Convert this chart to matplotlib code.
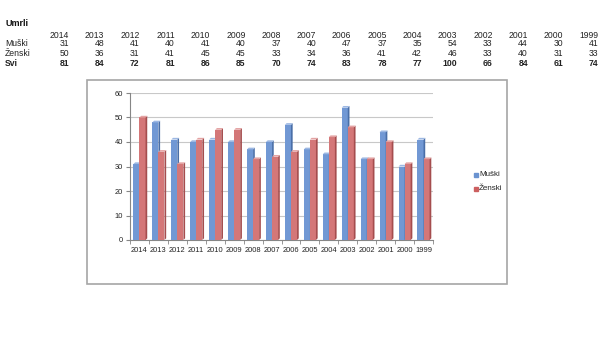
import numpy as np
import matplotlib
matplotlib.use("Agg")
from matplotlib import pyplot as plt
from matplotlib.patches import Rectangle

years = ["2014", "2013", "2012", "2011", "2010", "2009", "2008", "2007",
         "2006", "2005", "2004", "2003", "2002", "2001", "2000", "1999"]
muski = [31, 48, 41, 40, 41, 40, 37, 40, 47, 37, 35, 54, 33, 44, 30, 41]
zenski = [50, 36, 31, 41, 45, 45, 33, 34, 36, 41, 42, 46, 33, 40, 31, 33]
svi = [81, 84, 72, 81, 86, 85, 70, 74, 83, 78, 77, 100, 66, 84, 61, 74]

plt.rcParams["font.family"] = ["Liberation Sans", "DejaVu Sans"]

W, H = 600, 350
fig = plt.figure(figsize=(6, 3.5), dpi=100)

def fy(y):
    return 1 - y / H

# table above the chart
fig.text(5 / W, fy(24), "Umrli", fontsize=6.5, fontweight="bold", va="center", color="#111111")
rows = [("", years, "normal"), ("Muški", muski, "normal"),
        ("Ženski", zenski, "normal"), ("Svi", svi, "bold")]
row_y = [35, 44, 53, 63]
for (label, vals, wt), ry in zip(rows, row_y):
    if label:
        fig.text(5 / W, fy(ry), label, fontsize=6.2, fontweight=wt, va="center", color="#222222")
    for i, v in enumerate(vals):
        fig.text((69 + 35.3 * i) / W, fy(ry), str(v), fontsize=6.2, fontweight=wt,
                 ha="right", va="center", color="#222222")

# chart frame
fig.add_artist(Rectangle((87 / W, fy(284)), (507 - 87) / W, (284 - 80) / H,
                         transform=fig.transFigure, fill=False,
                         edgecolor="#A6A6A6", lw=1.2))

ax = fig.add_axes([130 / W, fy(240), 303 / W, 147 / H])
x = np.arange(len(years))
w = 0.32
dx, dy = 0.09, 0.7

def bar3d(xs, hs, face, side, top):
    ax.bar(xs, hs, width=w, color=face, edgecolor="none", zorder=3)
    for xc, h in zip(xs, hs):
        r = xc + w / 2
        l = xc - w / 2
        ax.fill([r, r + dx, r + dx, r], [0, dy, h + dy, h], color=side, lw=0, zorder=3)
        ax.fill([l, l + dx, r + dx, r], [h, h + dy, h + dy, h], color=top, lw=0, zorder=3)

bar3d(x - w / 2, muski, "#7198D4", "#4A6FA8", "#9DB8E3")
bar3d(x + w / 2, zenski, "#D47778", "#A54D4E", "#E4A3A3")

ax.set_xlim(-0.5, len(years) - 0.5)
ax.set_ylim(0, 60)
ax.set_yticks(range(0, 61, 10))
ax.set_xticks(x)
ax.set_xticklabels(years)
ax.set_xticks(np.arange(-0.5, len(years)), minor=True)
ax.tick_params(axis="x", which="major", length=0, labelsize=5.4, pad=5, labelcolor="#222222")
ax.tick_params(axis="x", which="minor", length=3, color="#868686")
ax.tick_params(axis="y", length=3, color="#868686", labelsize=5.4, pad=2, labelcolor="#222222")
ax.yaxis.grid(True, color="#C8C8C8", lw=0.8, zorder=0)
for s in ["top", "right"]:
    ax.spines[s].set_visible(False)
ax.spines["left"].set_color("#868686")
ax.spines["bottom"].set_color("#868686")
ax.set_axisbelow(True)

# legend
for lab, col, ly in [("Muški", "#6A93D0", 175), ("Ženski", "#CC5F60", 189)]:
    fig.add_artist(Rectangle((474 / W, fy(ly + 2)), 4 / W, 4 / H,
                             transform=fig.transFigure, color=col))
    fig.text(479 / W, fy(ly), lab, fontsize=5.8, va="center", color="#222222")

plt.savefig("out.png", dpi=100)
plt.close()
